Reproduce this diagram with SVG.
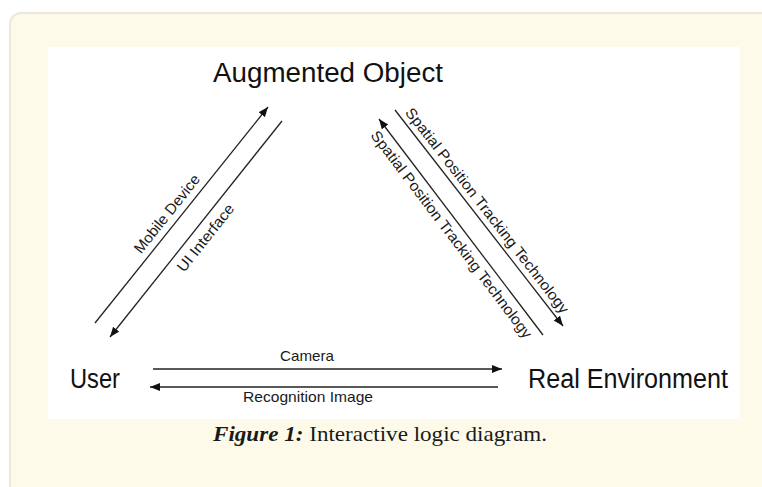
<svg xmlns="http://www.w3.org/2000/svg" width="762" height="487" viewBox="0 0 762 487">
  <style>
    .node { font-family: "Liberation Sans", Arial, sans-serif; fill: #111; }
    .lbl { font-family: "Liberation Sans", Arial, sans-serif; font-size: 15px; fill: #1a1a1a; }
    .wire { stroke: #222; stroke-width: 1.3; fill: none; }
    .cap { font-family: "Liberation Serif", "Times New Roman", serif; font-size: 22px; fill: #1a1a1a; }
  </style>
  <defs>
    <marker id="arrow" markerUnits="userSpaceOnUse" markerWidth="11" markerHeight="9" refX="10" refY="4" orient="auto">
      <path d="M0,0 L10,4 L0,8 Z" fill="#111"/>
    </marker>
  </defs>

  <!-- page background and figure panel -->
  <rect x="0" y="0" width="762" height="487" fill="#ffffff"/>
  <rect x="10" y="13" width="770" height="500" rx="11" ry="11" fill="#fefae9" stroke="#ebe8dc" stroke-width="2"/>
  <rect x="48" y="47" width="692" height="372" fill="#ffffff"/>

  <!-- nodes -->
  <g id="augmented-object">
    <text class="node" x="328" y="82" font-size="27" text-anchor="middle" textLength="230" lengthAdjust="spacingAndGlyphs">Augmented Object</text>
  </g>
  <g id="user">
    <text class="node" x="70" y="388" font-size="27" textLength="50" lengthAdjust="spacingAndGlyphs">User</text>
  </g>
  <g id="real-environment">
    <text class="node" x="528" y="388" font-size="27" textLength="200" lengthAdjust="spacingAndGlyphs">Real Environment</text>
  </g>

  <!-- connectors -->
  <g id="connectors">
    <line class="wire" x1="95" y1="323" x2="268" y2="107" marker-end="url(#arrow)"/>
    <line class="wire" x1="282" y1="121" x2="110" y2="337" marker-end="url(#arrow)"/>
    <line class="wire" x1="395" y1="110" x2="563" y2="326" marker-end="url(#arrow)"/>
    <line class="wire" x1="543" y1="335" x2="379" y2="119" marker-end="url(#arrow)"/>
    <line class="wire" x1="153" y1="369" x2="502" y2="369" marker-end="url(#arrow)"/>
    <line class="wire" x1="498" y1="387" x2="150" y2="387" marker-end="url(#arrow)"/>

    <g transform="translate(176.4,221.3) rotate(-51.3)">
      <text class="lbl" x="0" y="-7" text-anchor="middle" textLength="96" lengthAdjust="spacingAndGlyphs">Mobile Device</text>
    </g>
    <g transform="translate(195.5,229.7) rotate(-51.5)">
      <text class="lbl" x="0" y="18" text-anchor="middle" textLength="82" lengthAdjust="spacingAndGlyphs">UI Interface</text>
    </g>
    <g transform="translate(478.5,217.4) rotate(52.1)">
      <text class="lbl" x="0" y="-6" text-anchor="middle" textLength="256" lengthAdjust="spacingAndGlyphs">Spatial Position Tracking Technology</text>
    </g>
    <g transform="translate(461,227.2) rotate(52.8)">
      <text class="lbl" x="0" y="17" text-anchor="middle" textLength="256" lengthAdjust="spacingAndGlyphs">Spatial Position Tracking Technology</text>
    </g>
    <text class="lbl" x="307" y="361" text-anchor="middle" textLength="54" lengthAdjust="spacingAndGlyphs">Camera</text>
    <text class="lbl" x="308" y="402" text-anchor="middle" textLength="130" lengthAdjust="spacingAndGlyphs">Recognition Image</text>
  </g>

  <!-- caption -->
  <text class="cap" x="380" y="441" text-anchor="middle" textLength="334" lengthAdjust="spacingAndGlyphs"><tspan font-weight="bold" font-style="italic">Figure 1:</tspan> Interactive logic diagram.</text>
</svg>
